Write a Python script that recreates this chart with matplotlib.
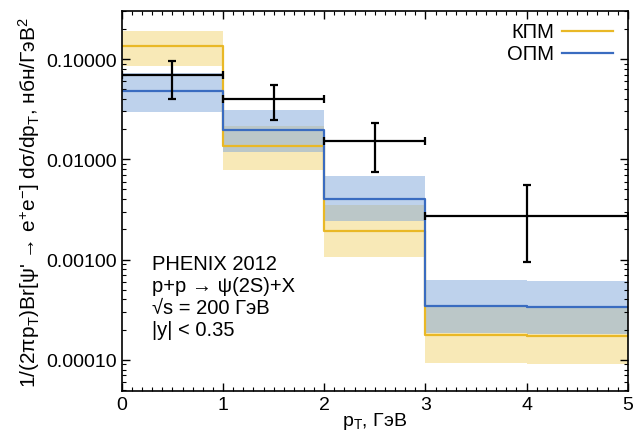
import numpy as np
import matplotlib
matplotlib.use("Agg")
from matplotlib import pyplot as plt
from matplotlib.ticker import LogLocator, MultipleLocator, FormatStrFormatter, NullFormatter

plt.rcParams['font.family'] = ['Liberation Sans', 'DejaVu Sans']
plt.rcParams['mathtext.fontset'] = 'custom'
plt.rcParams['mathtext.rm'] = 'Liberation Sans'
plt.rcParams['mathtext.it'] = 'Liberation Sans'

# PHENIX 2012 data, psi(2S)
pt_data = [0.5, 1.5, 2.5, 4.0]
pt_halfwidth = [0.5, 0.5, 0.5, 1.0]
xs_data = [0.069, 0.040, 0.0152, 0.00272]
xs_up = [0.095, 0.055, 0.023, 0.00555]
xs_down = [0.040, 0.0247, 0.0074, 0.00095]

# theory bins (edges) and predictions
edges = [0, 1, 2, 3, 4, 5]
kpm = [0.136, 0.0136, 0.00193, 0.000178, 0.000172]
kpm_hi = [0.189, 0.0216, 0.0035, 0.000334, 0.00033]
kpm_lo = [0.0846, 0.0078, 0.00105, 0.000093, 0.000091]
opm = [0.0483, 0.0197, 0.00402, 0.000347, 0.000333]
opm_hi = [0.072, 0.031, 0.00687, 0.00063, 0.00061]
opm_lo = [0.0299, 0.0119, 0.0024, 0.000184, 0.000181]

c_kpm = '#E9B826'
c_opm = '#3A6CC0'

fig = plt.figure(figsize=(6.38, 4.35), dpi=100)
ax = fig.add_axes([0.191, 0.099, 0.793, 0.873])


def step_vals(v):
    return list(v) + [v[-1]]


ax.fill_between(edges, step_vals(kpm_lo), step_vals(kpm_hi), step='post',
                color='#F0D060', alpha=0.45, lw=0)
ax.fill_between(edges, step_vals(opm_lo), step_vals(opm_hi), step='post',
                color='#7FA6DA', alpha=0.5, lw=0)
ax.step(edges, step_vals(kpm), where='post', color=c_kpm, lw=1.6)
ax.step(edges, step_vals(opm), where='post', color=c_opm, lw=1.6)

yerr = [np.array(xs_data) - np.array(xs_down), np.array(xs_up) - np.array(xs_data)]
ax.errorbar(pt_data, xs_data, xerr=pt_halfwidth, yerr=yerr, fmt='none',
            ecolor='black', elinewidth=1.6, capsize=3, capthick=1.6)

ax.set_yscale('log')
ax.set_xlim(0, 5)
ax.set_ylim(4.9e-5, 0.30)
ax.yaxis.set_major_locator(LogLocator(base=10, numticks=10))
ax.yaxis.set_minor_locator(LogLocator(base=10, subs=np.arange(2, 10), numticks=20))
ax.yaxis.set_major_formatter(FormatStrFormatter('%.5f'))
ax.yaxis.set_minor_formatter(NullFormatter())
ax.xaxis.set_major_locator(MultipleLocator(1))
ax.xaxis.set_minor_locator(MultipleLocator(0.1))
ax.tick_params(which='both', direction='in', top=True, right=True, labelsize=14)
ax.tick_params(which='major', length=6, width=1)
ax.tick_params(which='minor', length=3, width=0.8)
for s in ax.spines.values():
    s.set_linewidth(1.2)

ax.set_xlabel(r'p$_\mathrm{T}$, ГэВ', fontsize=14, labelpad=-2)
ax.set_ylabel(r"1/(2πp$_\mathrm{T}$)Br[ψ' → e$^{+}$e$^{-}$] dσ/dp$_\mathrm{T}$, нбн/ГэВ$^{2}$",
              fontsize=15, labelpad=3)

ax.text(0.06, 0.36, 'PHENIX 2012\np+p → ψ(2S)+X\n√s = 200 ГэВ\n|y| < 0.35',
        transform=ax.transAxes, fontsize=14.5, va='top', ha='left', linespacing=1.2)

# legend drawn by hand
ax.text(0.855, 0.947, 'КПМ', transform=ax.transAxes, fontsize=14.5, ha='right', va='center')
ax.text(0.855, 0.889, 'ОПМ', transform=ax.transAxes, fontsize=14.5, ha='right', va='center')
ax.plot([0.87, 0.97], [0.947, 0.947], transform=ax.transAxes, color=c_kpm, lw=1.6)
ax.plot([0.87, 0.97], [0.889, 0.889], transform=ax.transAxes, color=c_opm, lw=1.6)

fig.savefig('out.png', dpi=100)
